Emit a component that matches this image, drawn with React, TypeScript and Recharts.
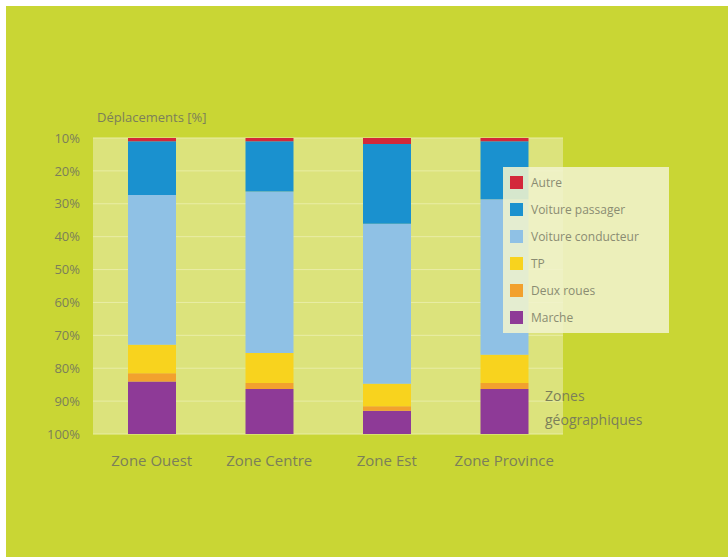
import React from 'react';
import { BarChart, Bar, XAxis, YAxis, CartesianGrid } from 'recharts';

const zones = ['Zone Ouest', 'Zone Centre', 'Zone Est', 'Zone Province'];
const marche = [16, 13.7, 7.1, 13.7];
const deuxRoues = [2.5, 1.8, 1.3, 1.8];
const tp = [8.6, 9.1, 6.9, 8.6];
const voitureConducteur = [45.6, 49.1, 48.6, 47.3];
const voiturePassager = [16.3, 15.3, 24.3, 17.6];
const autre = [1, 1, 1.8, 1];
const yTicks = [0, 10, 20, 30, 40, 50, 60, 70, 80, 90];

const series = [
  { key: 'marche', name: 'Marche', values: marche, color: '#8e3a97' },
  { key: 'deuxRoues', name: 'Deux roues', values: deuxRoues, color: '#f2a12e' },
  { key: 'tp', name: 'TP', values: tp, color: '#f8d31e' },
  { key: 'voitureConducteur', name: 'Voiture conducteur', values: voitureConducteur, color: '#8fc1e5' },
  { key: 'voiturePassager', name: 'Voiture passager', values: voiturePassager, color: '#1a91cf' },
  { key: 'autre', name: 'Autre', values: autre, color: '#d3283a' },
];

const data = zones.map((zone, i) => {
  const row: Record<string, string | number> = { zone };
  series.forEach(s => { row[s.key] = s.values[i]; });
  return row;
});

const textColor = '#7b7f5a';

// legend drawn as an overlay box, it sits over the last bar like in the original
const LegendBox = () => (
  <div
    style={{
      position: 'absolute',
      left: 497,
      top: 161,
      width: 166,
      height: 166,
      boxSizing: 'border-box',
      background: 'rgba(240, 242, 205, 0.88)',
      paddingTop: 2,
      paddingLeft: 7,
    }}
  >
    {[...series].reverse().map(s => (
      <div key={s.key} style={{ display: 'flex', alignItems: 'center', height: 27 }}>
        <span style={{ width: 13, height: 13, background: s.color, display: 'inline-block', marginRight: 8 }} />
        <span style={{ fontSize: 12, color: '#8a8c72' }}>{s.name}</span>
      </div>
    ))}
  </div>
);

const App = () => {
  return (
    <div
      style={{
        position: 'absolute',
        left: 6,
        top: 6,
        width: 722,
        height: 551,
        background: '#c9d634',
        fontFamily: 'Open Sans',
      }}
    >
      <BarChart
        width={722}
        height={551}
        data={data}
        margin={{ top: 132, right: 165, bottom: 83, left: 57 }}
        barSize={48}
      >
        <CartesianGrid vertical={false} stroke="#e9eda6" fill="#dce37c" />
        <XAxis
          dataKey="zone"
          axisLine={false}
          tickLine={false}
          tickSize={0}
          tickMargin={21}
          height={40}
          tick={{ fontSize: 15, fill: textColor }}
        />
        <YAxis
          type="number"
          domain={[0, 90]}
          ticks={yTicks}
          interval={0}
          tickFormatter={(v: number) => `${100 - v}%`}
          axisLine={false}
          tickLine={false}
          tickSize={0}
          tickMargin={13}
          width={30}
          tick={{ fontSize: 13, fill: textColor }}
        />
        {series.map(s => (
          <Bar
            key={s.key}
            dataKey={s.key}
            name={s.name}
            stackId="a"
            fill={s.color}
            isAnimationActive={false}
          />
        ))}
      </BarChart>
      <div style={{ position: 'absolute', left: 91, top: 102, fontSize: 13, color: textColor }}>
        Déplacements [%]
      </div>
      <div style={{ position: 'absolute', left: 539, top: 378, fontSize: 14, color: textColor, lineHeight: '24px' }}>
        Zones
        <br />
        géographiques
      </div>
      <LegendBox />
    </div>
  );
};

export default App;
